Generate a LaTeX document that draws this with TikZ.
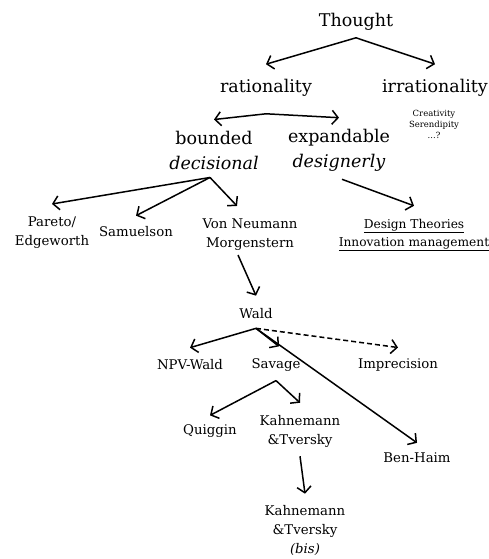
\documentclass[tikz,border=0pt]{standalone}
\usepackage{fontspec}
\setmainfont{DejaVu Serif}
\usetikzlibrary{arrows.meta}
\tikzset{
  % For the main terms.
  term/.style={
    font=\fontsize{17.5}{25}\selectfont,
    align=center,
    inner sep=1pt},
%
  % For authors and fields.
  person/.style={
    font=\fontsize{13.3}{19}\selectfont,
    align=center,
    inner sep=1pt},
%
  % For the small notes.
  aside/.style={
    font=\fontsize{8.5}{11}\selectfont,
    align=center,
    inner sep=1pt},
%
  % For links.
  link/.style={
    line width=1.5pt,
    -{Straight Barb[length=6pt,width=14pt]}},
  dashed link/.style={
    link,
    dash pattern=on 5pt off 3pt},
}

\begin{document}
\begin{tikzpicture}[x=1pt,y=-1pt]
  \useasboundingbox (0,0) rectangle (489,559);

  \node[term] (thought) at (356,22) {Thought};
  \node[term] (rationality) at (266,88) {rationality};
  \node[term] (irrationality) at (435,88) {irrationality};
  \node[aside] (notes) at (434,124) {Creativity\\Serendipity\\...?};
  \node[term] (bounded) at (214,150) {bounded\\\textit{decisional}};
  \node[term] (expandable) at (339,150) {expandable\\\textit{designerly}};

  \node[person] (pareto) at (52,233) {Pareto/\\Edgeworth};
  \node[person] (samuelson) at (136,232) {Samuelson};
  \node[person] (neumann) at (250,235) {Von Neumann\\Morgenstern};
  \node[person, font=\fontsize{12.2}{18}\selectfont] (design) at (414,235)
    {\underline{Design Theories}\\\underline{Innovation management}};

  \node[person] (wald) at (256,314) {Wald};
  \node[person] (npv) at (190,365) {NPV-Wald};
  \node[person] (savage) at (276,365) {Savage};
  \node[person] (imprecision) at (398,365) {Imprecision};

  \node[person] (quiggin) at (210,431) {Quiggin};
  \node[person] (kt) at (300,431) {Kahnemann\\\&Tversky};
  \node[person] (benhaim) at (417,458) {Ben-Haim};
  \node[person] (ktbis) at (305,530) {Kahnemann\\\&Tversky\\\textit{(bis)}};

  \draw[link] ([yshift=-6pt]thought.south) -- ([yshift=14pt]rationality.north);
  \draw[link] ([yshift=-6pt]thought.south) -- ([yshift=14pt]irrationality.north);

  \draw[link] ([yshift=-16pt]rationality.south) -- ([yshift=10pt]bounded.north);
  \draw[link] ([yshift=-16pt]rationality.south) -- ([yshift=10pt]expandable.north);

  \draw[link] ([shift={(-4pt,-7pt)}]bounded.south) -- ([yshift=12pt]pareto.north);
  \draw[link] ([shift={(-4pt,-7pt)}]bounded.south) -- ([yshift=10pt]samuelson.north);
  \draw[link] ([shift={(-4pt,-7pt)}]bounded.south) -- ([shift={(-13pt,12pt)}]neumann.north);
  \draw[link] ([shift={(3pt,-7pt)}]expandable.south) -- ([yshift=12pt]design.north);

  \draw[link] ([shift={(-12pt,-3pt)}]neumann.south) -- ([yshift=12pt]wald.north);

  \draw[link] ([yshift=-8pt]wald.south) -- ([yshift=11pt]npv.north);
  \draw[link] ([yshift=-8pt]wald.south) -- ([shift={(3pt,11pt)}]savage.north);
  \draw[dashed link] ([yshift=-8pt]wald.south) -- ([yshift=10pt]imprecision.north);
  \draw[link] ([yshift=-8pt]wald.south) -- ([yshift=9pt]benhaim.north);

  \draw[link] ([yshift=-8pt]savage.south) -- ([yshift=8pt]quiggin.north);
  \draw[link] ([yshift=-8pt]savage.south) -- ([yshift=11pt]kt.north);
  \draw[link] ([yshift=-8pt]kt.south) -- ([yshift=10pt]ktbis.north);
\end{tikzpicture}
\end{document}
